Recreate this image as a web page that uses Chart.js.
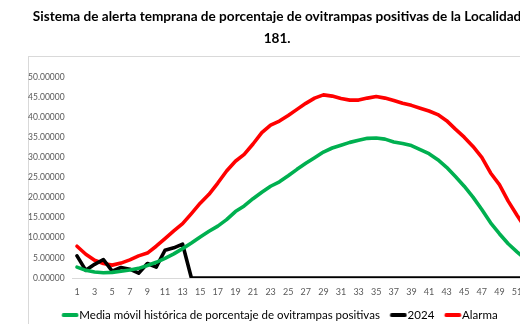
<!DOCTYPE html>
<html>
<head>
<meta charset="utf-8">
<script src="https://cdn.jsdelivr.net/npm/chart.js@4.4.1/dist/chart.umd.min.js"></script>
<style>
  html, body { margin: 0; padding: 0; background: #fff; overflow: hidden; }
  #wrap { position: relative; width: 520px; height: 324px; overflow: hidden; }
  #frame { position: absolute; left: 28px; top: 56px; width: 560px; height: 300px;
           border: 1px solid #d9d9d9; box-sizing: border-box; }
  #c { position: absolute; left: 0; top: 0; }
</style>
</head>
<body>
<div id="wrap">
  <div id="frame"></div>
  <canvas id="c" width="560" height="331" style="width:560px;height:331px"></canvas>
</div>
<script>
// Epidemiological weeks
const weeks = Array.from({ length: 52 }, (_, i) => String(i + 1));

// Historical moving average of positive ovitraps (%)
const mediaMovil = [
  2.7, 1.9, 1.5, 1.3, 1.4, 1.7, 2.0, 2.4, 3.1, 3.9,
  4.9, 6.0, 7.3, 8.7, 10.2, 11.6, 12.9, 14.5, 16.5, 17.9,
  19.7, 21.3, 22.8, 23.9, 25.4, 27.0, 28.5, 29.9, 31.3, 32.3,
  33.0, 33.7, 34.2, 34.7, 34.8, 34.5, 33.8, 33.4, 32.9, 31.9,
  30.9, 29.4, 27.5, 25.2, 22.8, 20.1, 17.0, 13.7, 11.0, 8.5,
  6.5, 4.6
];

// Current year observations (%)
const serie2024 = [
  5.5, 1.9, 3.4, 4.6, 1.7, 2.6, 2.2, 1.2, 3.6, 2.7,
  6.9, 7.5, 8.4, 0, 0, 0, 0, 0, 0, 0,
  0, 0, 0, 0, 0, 0, 0, 0, 0, 0,
  0, 0, 0, 0, 0, 0, 0, 0, 0, 0,
  0, 0, 0, 0, 0, 0, 0, 0, 0, 0,
  0, 0
];

// Alarm threshold (%)
const alarma = [
  7.9, 5.9, 4.4, 3.6, 3.2, 3.7, 4.5, 5.5, 6.2, 7.9,
  9.8, 11.7, 13.5, 16.0, 18.6, 20.8, 23.6, 26.6, 29.0, 30.7,
  33.3, 36.1, 38.0, 39.0, 40.4, 41.9, 43.4, 44.7, 45.5, 45.2,
  44.6, 44.2, 44.2, 44.7, 45.1, 44.7, 44.1, 43.4, 42.9, 42.2,
  41.5, 40.6, 39.1, 37.0, 35.0, 32.7, 30.0, 26.1, 23.2, 19.1,
  15.6, 12.3
];

const yTicks = [0, 5, 10, 15, 20, 25, 30, 35, 40, 45, 50];

const FONT = 'Lato, "Liberation Sans", sans-serif';
const GREY = '#595959';
const LINE_W = 3.6;

// Legend swatch: a short thick line sitting at the right of a wider image,
// so the label text follows it closely.
function swatch(color) {
  const cv = document.createElement('canvas');
  cv.width = 28; cv.height = 4;
  const g = cv.getContext('2d');
  g.fillStyle = color;
  g.beginPath();
  g.arc(12.5, 2, 2, 0, Math.PI * 2);
  g.arc(25.5, 2, 2, 0, Math.PI * 2);
  g.fill();
  g.fillRect(12.5, 0, 13, 4);
  return cv;
}

new Chart(document.getElementById('c'), {
  type: 'line',
  data: {
    labels: weeks,
    datasets: [
      { label: 'Media móvil histórica de porcentaje de ovitrampas positivas',
        data: mediaMovil, borderColor: '#00b050', backgroundColor: '#00b050',
        pointStyle: swatch('#00b050') },
      { label: '2024', data: serie2024, borderColor: '#000000', backgroundColor: '#000000',
        pointStyle: swatch('#000000') },
      { label: 'Alarma', data: alarma, borderColor: '#ff0000', backgroundColor: '#ff0000',
        pointStyle: swatch('#ff0000') }
    ]
  },
  options: {
    responsive: false,
    animation: false,
    devicePixelRatio: 1,
    elements: {
      line: { borderWidth: LINE_W, tension: 0, borderJoinStyle: 'round', borderCapStyle: 'round' },
      point: { radius: 0, hoverRadius: 0 }
    },
    layout: { padding: { left: 24, right: 29.8, top: 0, bottom: 0 } },
    plugins: {
      title: {
        display: true,
        text: ['Sistema de alerta temprana de porcentaje de ovitrampas positivas de la Localidad',
               '181.'],
        color: '#000',
        font: { family: FONT, size: 13.6, weight: 'bold', lineHeight: 1.58 },
        padding: { top: 6, bottom: 27.8 }
      },
      legend: {
        position: 'bottom',
        labels: {
          color: '#000',
          font: { family: FONT, size: 11.5 },
          usePointStyle: true,
          pointStyleWidth: 17,
          boxHeight: 4,
          padding: 5
        }
      },
      tooltip: { enabled: false }
    },
    scales: {
      x: {
        offset: true,
        afterFit: (s) => { s.height = 26.5; },
        grid: { display: false, drawTicks: false },
        border: { display: true, color: '#d9d9d9', width: 1 },
        ticks: {
          color: GREY, font: { family: FONT, size: 9 },
          autoSkip: false, maxRotation: 0, padding: 9,
          callback: function (v, i) { return i % 2 === 0 ? this.getLabelForValue(v) : ''; }
        }
      },
      y: {
        min: 0, max: 50,
        afterBuildTicks: (s) => { s.ticks = yTicks.map(v => ({ value: v })); },
        afterFit: (s) => { s.width = 48.6; },
        grid: { display: false, drawTicks: false },
        border: { display: false },
        ticks: {
          color: GREY, font: { family: FONT, size: 8.5 }, padding: 8,
          callback: (v) => Number(v).toFixed(5)
        }
      }
    }
  }
});
</script>
</body>
</html>
